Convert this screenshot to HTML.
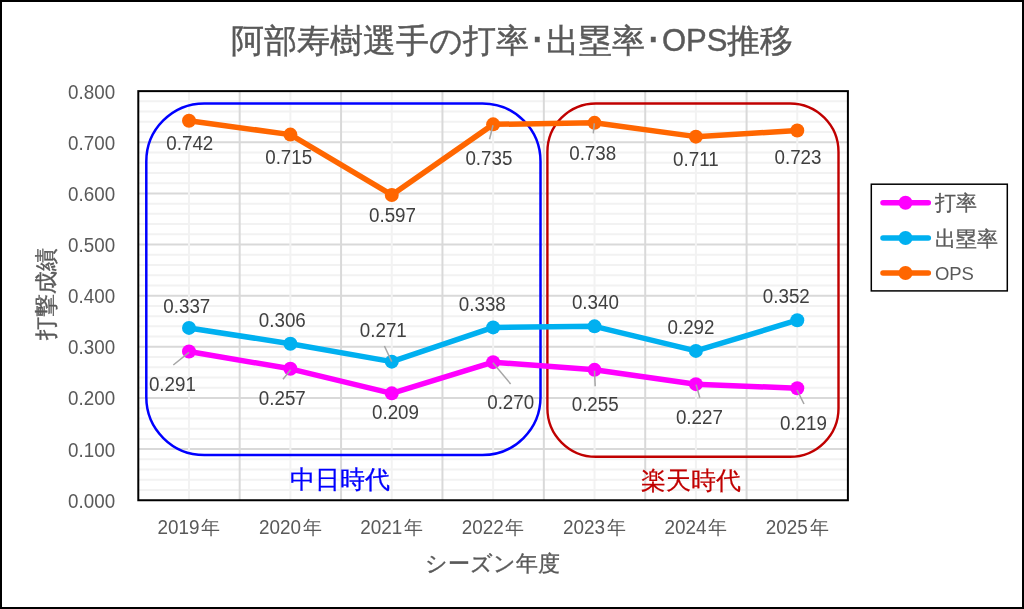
<!DOCTYPE html><html lang="ja"><head><meta charset="utf-8"><style>
html,body{margin:0;padding:0;background:#fff;width:1024px;height:609px;overflow:hidden}
svg{display:block;font-family:"Liberation Sans",sans-serif;will-change:transform}
</style></head><body>
<svg width="1024" height="609" viewBox="0 0 1024 609">
<rect x="0" y="0" width="1024" height="609" fill="#fff"/>
<line x1="138.3" y1="490.02" x2="847.9" y2="490.02" stroke="#F2F2F2" stroke-width="2"/>
<line x1="138.3" y1="479.79" x2="847.9" y2="479.79" stroke="#F2F2F2" stroke-width="2"/>
<line x1="138.3" y1="469.57" x2="847.9" y2="469.57" stroke="#F2F2F2" stroke-width="2"/>
<line x1="138.3" y1="459.34" x2="847.9" y2="459.34" stroke="#F2F2F2" stroke-width="2"/>
<line x1="138.3" y1="438.88" x2="847.9" y2="438.88" stroke="#F2F2F2" stroke-width="2"/>
<line x1="138.3" y1="428.65" x2="847.9" y2="428.65" stroke="#F2F2F2" stroke-width="2"/>
<line x1="138.3" y1="418.43" x2="847.9" y2="418.43" stroke="#F2F2F2" stroke-width="2"/>
<line x1="138.3" y1="408.20" x2="847.9" y2="408.20" stroke="#F2F2F2" stroke-width="2"/>
<line x1="138.3" y1="387.74" x2="847.9" y2="387.74" stroke="#F2F2F2" stroke-width="2"/>
<line x1="138.3" y1="377.51" x2="847.9" y2="377.51" stroke="#F2F2F2" stroke-width="2"/>
<line x1="138.3" y1="367.29" x2="847.9" y2="367.29" stroke="#F2F2F2" stroke-width="2"/>
<line x1="138.3" y1="357.06" x2="847.9" y2="357.06" stroke="#F2F2F2" stroke-width="2"/>
<line x1="138.3" y1="336.60" x2="847.9" y2="336.60" stroke="#F2F2F2" stroke-width="2"/>
<line x1="138.3" y1="326.37" x2="847.9" y2="326.37" stroke="#F2F2F2" stroke-width="2"/>
<line x1="138.3" y1="316.15" x2="847.9" y2="316.15" stroke="#F2F2F2" stroke-width="2"/>
<line x1="138.3" y1="305.92" x2="847.9" y2="305.92" stroke="#F2F2F2" stroke-width="2"/>
<line x1="138.3" y1="285.46" x2="847.9" y2="285.46" stroke="#F2F2F2" stroke-width="2"/>
<line x1="138.3" y1="275.23" x2="847.9" y2="275.23" stroke="#F2F2F2" stroke-width="2"/>
<line x1="138.3" y1="265.01" x2="847.9" y2="265.01" stroke="#F2F2F2" stroke-width="2"/>
<line x1="138.3" y1="254.78" x2="847.9" y2="254.78" stroke="#F2F2F2" stroke-width="2"/>
<line x1="138.3" y1="234.32" x2="847.9" y2="234.32" stroke="#F2F2F2" stroke-width="2"/>
<line x1="138.3" y1="224.09" x2="847.9" y2="224.09" stroke="#F2F2F2" stroke-width="2"/>
<line x1="138.3" y1="213.87" x2="847.9" y2="213.87" stroke="#F2F2F2" stroke-width="2"/>
<line x1="138.3" y1="203.64" x2="847.9" y2="203.64" stroke="#F2F2F2" stroke-width="2"/>
<line x1="138.3" y1="183.18" x2="847.9" y2="183.18" stroke="#F2F2F2" stroke-width="2"/>
<line x1="138.3" y1="172.95" x2="847.9" y2="172.95" stroke="#F2F2F2" stroke-width="2"/>
<line x1="138.3" y1="162.73" x2="847.9" y2="162.73" stroke="#F2F2F2" stroke-width="2"/>
<line x1="138.3" y1="152.50" x2="847.9" y2="152.50" stroke="#F2F2F2" stroke-width="2"/>
<line x1="138.3" y1="132.04" x2="847.9" y2="132.04" stroke="#F2F2F2" stroke-width="2"/>
<line x1="138.3" y1="121.81" x2="847.9" y2="121.81" stroke="#F2F2F2" stroke-width="2"/>
<line x1="138.3" y1="111.59" x2="847.9" y2="111.59" stroke="#F2F2F2" stroke-width="2"/>
<line x1="138.3" y1="101.36" x2="847.9" y2="101.36" stroke="#F2F2F2" stroke-width="2"/>
<line x1="138.3" y1="449.11" x2="847.9" y2="449.11" stroke="#D9D9D9" stroke-width="2"/>
<line x1="138.3" y1="397.97" x2="847.9" y2="397.97" stroke="#D9D9D9" stroke-width="2"/>
<line x1="138.3" y1="346.83" x2="847.9" y2="346.83" stroke="#D9D9D9" stroke-width="2"/>
<line x1="138.3" y1="295.69" x2="847.9" y2="295.69" stroke="#D9D9D9" stroke-width="2"/>
<line x1="138.3" y1="244.55" x2="847.9" y2="244.55" stroke="#D9D9D9" stroke-width="2"/>
<line x1="138.3" y1="193.41" x2="847.9" y2="193.41" stroke="#D9D9D9" stroke-width="2"/>
<line x1="138.3" y1="142.27" x2="847.9" y2="142.27" stroke="#D9D9D9" stroke-width="2"/>
<line x1="189.00" y1="91.13" x2="189.00" y2="500.25" stroke="#F2F2F2" stroke-width="2"/>
<line x1="290.38" y1="91.13" x2="290.38" y2="500.25" stroke="#F2F2F2" stroke-width="2"/>
<line x1="391.76" y1="91.13" x2="391.76" y2="500.25" stroke="#F2F2F2" stroke-width="2"/>
<line x1="493.14" y1="91.13" x2="493.14" y2="500.25" stroke="#F2F2F2" stroke-width="2"/>
<line x1="594.52" y1="91.13" x2="594.52" y2="500.25" stroke="#F2F2F2" stroke-width="2"/>
<line x1="695.90" y1="91.13" x2="695.90" y2="500.25" stroke="#F2F2F2" stroke-width="2"/>
<line x1="797.28" y1="91.13" x2="797.28" y2="500.25" stroke="#F2F2F2" stroke-width="2"/>
<line x1="239.69" y1="91.13" x2="239.69" y2="500.25" stroke="#D9D9D9" stroke-width="2"/>
<line x1="341.07" y1="91.13" x2="341.07" y2="500.25" stroke="#D9D9D9" stroke-width="2"/>
<line x1="442.45" y1="91.13" x2="442.45" y2="500.25" stroke="#D9D9D9" stroke-width="2"/>
<line x1="543.83" y1="91.13" x2="543.83" y2="500.25" stroke="#D9D9D9" stroke-width="2"/>
<line x1="645.21" y1="91.13" x2="645.21" y2="500.25" stroke="#D9D9D9" stroke-width="2"/>
<line x1="746.59" y1="91.13" x2="746.59" y2="500.25" stroke="#D9D9D9" stroke-width="2"/>
<rect x="138.3" y="91.13" width="709.60" height="409.12" fill="none" stroke="#000" stroke-width="2"/>
<rect x="146.3" y="103.5" width="394.2" height="351.5" rx="58" ry="58" fill="none" stroke="#0000FF" stroke-width="2.5"/>
<rect x="547.4" y="103.5" width="291.1" height="353.3" rx="48.5" ry="48.5" fill="none" stroke="#C00000" stroke-width="2.4"/>
<polyline points="189.00,351.43 290.38,368.82 391.76,393.37 493.14,362.17 594.52,369.84 695.90,384.16 797.28,388.25" fill="none" stroke="#FF00FF" stroke-width="5.5" stroke-linejoin="round" stroke-linecap="round"/>
<circle cx="189.00" cy="351.43" r="7" fill="#FF00FF"/>
<circle cx="290.38" cy="368.82" r="7" fill="#FF00FF"/>
<circle cx="391.76" cy="393.37" r="7" fill="#FF00FF"/>
<circle cx="493.14" cy="362.17" r="7" fill="#FF00FF"/>
<circle cx="594.52" cy="369.84" r="7" fill="#FF00FF"/>
<circle cx="695.90" cy="384.16" r="7" fill="#FF00FF"/>
<circle cx="797.28" cy="388.25" r="7" fill="#FF00FF"/>
<polyline points="189.00,327.91 290.38,343.76 391.76,361.66 493.14,327.40 594.52,326.37 695.90,350.92 797.28,320.24" fill="none" stroke="#00B0F0" stroke-width="5.5" stroke-linejoin="round" stroke-linecap="round"/>
<circle cx="189.00" cy="327.91" r="7" fill="#00B0F0"/>
<circle cx="290.38" cy="343.76" r="7" fill="#00B0F0"/>
<circle cx="391.76" cy="361.66" r="7" fill="#00B0F0"/>
<circle cx="493.14" cy="327.40" r="7" fill="#00B0F0"/>
<circle cx="594.52" cy="326.37" r="7" fill="#00B0F0"/>
<circle cx="695.90" cy="350.92" r="7" fill="#00B0F0"/>
<circle cx="797.28" cy="320.24" r="7" fill="#00B0F0"/>
<polyline points="189.00,120.79 290.38,134.60 391.76,194.94 493.14,124.37 594.52,122.84 695.90,136.64 797.28,130.51" fill="none" stroke="#FF6600" stroke-width="5.5" stroke-linejoin="round" stroke-linecap="round"/>
<circle cx="189.00" cy="120.79" r="7" fill="#FF6600"/>
<circle cx="290.38" cy="134.60" r="7" fill="#FF6600"/>
<circle cx="391.76" cy="194.94" r="7" fill="#FF6600"/>
<circle cx="493.14" cy="124.37" r="7" fill="#FF6600"/>
<circle cx="594.52" cy="122.84" r="7" fill="#FF6600"/>
<circle cx="695.90" cy="136.64" r="7" fill="#FF6600"/>
<circle cx="797.28" cy="130.51" r="7" fill="#FF6600"/>
<line x1="189" y1="352.4" x2="173.3" y2="365" stroke="#A6A6A6" stroke-width="1.5"/>
<line x1="290.6" y1="369.7" x2="283" y2="379.3" stroke="#A6A6A6" stroke-width="1.5"/>
<line x1="384.4" y1="346" x2="391.7" y2="361.6" stroke="#A6A6A6" stroke-width="1.5"/>
<line x1="492.9" y1="362.8" x2="510.6" y2="383.9" stroke="#A6A6A6" stroke-width="1.5"/>
<line x1="594.5" y1="370.8" x2="595.2" y2="386.2" stroke="#A6A6A6" stroke-width="1.5"/>
<line x1="696.1" y1="384.6" x2="699.8" y2="397.7" stroke="#A6A6A6" stroke-width="1.5"/>
<line x1="797" y1="390" x2="804" y2="404" stroke="#A6A6A6" stroke-width="1.5"/>
<line x1="493" y1="125.2" x2="489.5" y2="139.2" stroke="#A6A6A6" stroke-width="1.5"/>
<line x1="594.3" y1="123.4" x2="593.3" y2="133.4" stroke="#A6A6A6" stroke-width="1.5"/>
<text transform="translate(189.8,149.9) scale(1,1.1)" font-size="18.8" fill="#404040" text-anchor="middle">0.742</text>
<text transform="translate(288.7,163.6) scale(1,1.1)" font-size="18.8" fill="#404040" text-anchor="middle">0.715</text>
<text transform="translate(392.5,221.6) scale(1,1.1)" font-size="18.8" fill="#404040" text-anchor="middle">0.597</text>
<text transform="translate(488.9,164.9) scale(1,1.1)" font-size="18.8" fill="#404040" text-anchor="middle">0.735</text>
<text transform="translate(592.7,159.5) scale(1,1.1)" font-size="18.8" fill="#404040" text-anchor="middle">0.738</text>
<text transform="translate(695.9,165.7) scale(1,1.1)" font-size="18.8" fill="#404040" text-anchor="middle">0.711</text>
<text transform="translate(798,164.3) scale(1,1.1)" font-size="18.8" fill="#404040" text-anchor="middle">0.723</text>
<text transform="translate(186.8,313.3) scale(1,1.1)" font-size="18.8" fill="#404040" text-anchor="middle">0.337</text>
<text transform="translate(282.3,326.7) scale(1,1.1)" font-size="18.8" fill="#404040" text-anchor="middle">0.306</text>
<text transform="translate(383.3,336.7) scale(1,1.1)" font-size="18.8" fill="#404040" text-anchor="middle">0.271</text>
<text transform="translate(482.3,310.5) scale(1,1.1)" font-size="18.8" fill="#404040" text-anchor="middle">0.338</text>
<text transform="translate(595.4,309.3) scale(1,1.1)" font-size="18.8" fill="#404040" text-anchor="middle">0.340</text>
<text transform="translate(691,333.7) scale(1,1.1)" font-size="18.8" fill="#404040" text-anchor="middle">0.292</text>
<text transform="translate(786.3,303.1) scale(1,1.1)" font-size="18.8" fill="#404040" text-anchor="middle">0.352</text>
<text transform="translate(172.4,390.6) scale(1,1.1)" font-size="18.8" fill="#404040" text-anchor="middle">0.291</text>
<text transform="translate(282.3,405.3) scale(1,1.1)" font-size="18.8" fill="#404040" text-anchor="middle">0.257</text>
<text transform="translate(395.5,418.5) scale(1,1.1)" font-size="18.8" fill="#404040" text-anchor="middle">0.209</text>
<text transform="translate(510.7,409.3) scale(1,1.1)" font-size="18.8" fill="#404040" text-anchor="middle">0.270</text>
<text transform="translate(595.2,411.3) scale(1,1.1)" font-size="18.8" fill="#404040" text-anchor="middle">0.255</text>
<text transform="translate(699.4,423.6) scale(1,1.1)" font-size="18.8" fill="#404040" text-anchor="middle">0.227</text>
<text transform="translate(803.4,429.9) scale(1,1.1)" font-size="18.8" fill="#404040" text-anchor="middle">0.219</text>
<text transform="translate(115.1,507.65) scale(1,1.1)" font-size="18.8" fill="#595959" text-anchor="end">0.000</text>
<text transform="translate(115.1,456.51) scale(1,1.1)" font-size="18.8" fill="#595959" text-anchor="end">0.100</text>
<text transform="translate(115.1,405.37) scale(1,1.1)" font-size="18.8" fill="#595959" text-anchor="end">0.200</text>
<text transform="translate(115.1,354.23) scale(1,1.1)" font-size="18.8" fill="#595959" text-anchor="end">0.300</text>
<text transform="translate(115.1,303.09) scale(1,1.1)" font-size="18.8" fill="#595959" text-anchor="end">0.400</text>
<text transform="translate(115.1,251.95) scale(1,1.1)" font-size="18.8" fill="#595959" text-anchor="end">0.500</text>
<text transform="translate(115.1,200.81) scale(1,1.1)" font-size="18.8" fill="#595959" text-anchor="end">0.600</text>
<text transform="translate(115.1,149.67) scale(1,1.1)" font-size="18.8" fill="#595959" text-anchor="end">0.700</text>
<text transform="translate(115.1,98.53) scale(1,1.1)" font-size="18.8" fill="#595959" text-anchor="end">0.800</text>
<text transform="translate(199.60,533.5) scale(1,1.1)" font-size="18.9" fill="#595959" text-anchor="end">2019</text>
<text x="201.30" y="533.9" font-size="19.3" fill="#595959">年</text>
<text transform="translate(300.98,533.5) scale(1,1.1)" font-size="18.9" fill="#595959" text-anchor="end">2020</text>
<text x="302.68" y="533.9" font-size="19.3" fill="#595959">年</text>
<text transform="translate(402.36,533.5) scale(1,1.1)" font-size="18.9" fill="#595959" text-anchor="end">2021</text>
<text x="404.06" y="533.9" font-size="19.3" fill="#595959">年</text>
<text transform="translate(503.74,533.5) scale(1,1.1)" font-size="18.9" fill="#595959" text-anchor="end">2022</text>
<text x="505.44" y="533.9" font-size="19.3" fill="#595959">年</text>
<text transform="translate(605.12,533.5) scale(1,1.1)" font-size="18.9" fill="#595959" text-anchor="end">2023</text>
<text x="606.82" y="533.9" font-size="19.3" fill="#595959">年</text>
<text transform="translate(706.50,533.5) scale(1,1.1)" font-size="18.9" fill="#595959" text-anchor="end">2024</text>
<text x="708.20" y="533.9" font-size="19.3" fill="#595959">年</text>
<text transform="translate(807.88,533.5) scale(1,1.1)" font-size="18.9" fill="#595959" text-anchor="end">2025</text>
<text x="809.58" y="533.9" font-size="19.3" fill="#595959">年</text>
<text x="492.5" y="563" font-size="22" fill="#595959" stroke="#595959" stroke-width="0.35" text-anchor="middle" dominant-baseline="central">シーズン年度</text>
<text x="0" y="0" font-size="23" fill="#595959" stroke="#595959" stroke-width="0.35" text-anchor="middle" dominant-baseline="central" transform="translate(46,293.6) rotate(-90)">打撃成績</text>
<text x="340" y="478.6" font-size="25" fill="#0000FF" stroke="#0000FF" stroke-width="0.3" text-anchor="middle" dominant-baseline="central">中日時代</text>
<text x="691" y="480" font-size="25" fill="#C00000" stroke="#C00000" stroke-width="0.2" text-anchor="middle" dominant-baseline="central">楽天時代</text>
<text x="231" y="40.3" font-size="33" fill="#595959" stroke="#595959" stroke-width="0.45" dominant-baseline="central">阿部寿樹選手の打率･出塁率･<tspan font-size="31">OPS</tspan>推移</text>
<rect x="871.3" y="184.2" width="136" height="106.7" fill="#fff" stroke="#000" stroke-width="1.5"/>
<line x1="883" y1="202.7" x2="928.3" y2="202.7" stroke="#FF00FF" stroke-width="5.5" stroke-linecap="round"/>
<circle cx="905.5" cy="202.7" r="7" fill="#FF00FF"/>
<text x="934.9" y="202.7" font-size="20.5" fill="#595959" stroke="#595959" stroke-width="0.3" dominant-baseline="central">打率</text>
<line x1="883" y1="238" x2="928.3" y2="238" stroke="#00B0F0" stroke-width="5.5" stroke-linecap="round"/>
<circle cx="905.5" cy="238" r="7" fill="#00B0F0"/>
<text x="934.9" y="238" font-size="20.5" fill="#595959" stroke="#595959" stroke-width="0.3" dominant-baseline="central">出塁率</text>
<line x1="883" y1="273" x2="928.3" y2="273" stroke="#FF6600" stroke-width="5.5" stroke-linecap="round"/>
<circle cx="905.5" cy="273" r="7" fill="#FF6600"/>
<text x="934.9" y="273" font-size="18.5" fill="#595959" dominant-baseline="central">OPS</text>
<rect x="1" y="1" width="1022" height="607" fill="none" stroke="#000" stroke-width="2"/>
</svg></body></html>
